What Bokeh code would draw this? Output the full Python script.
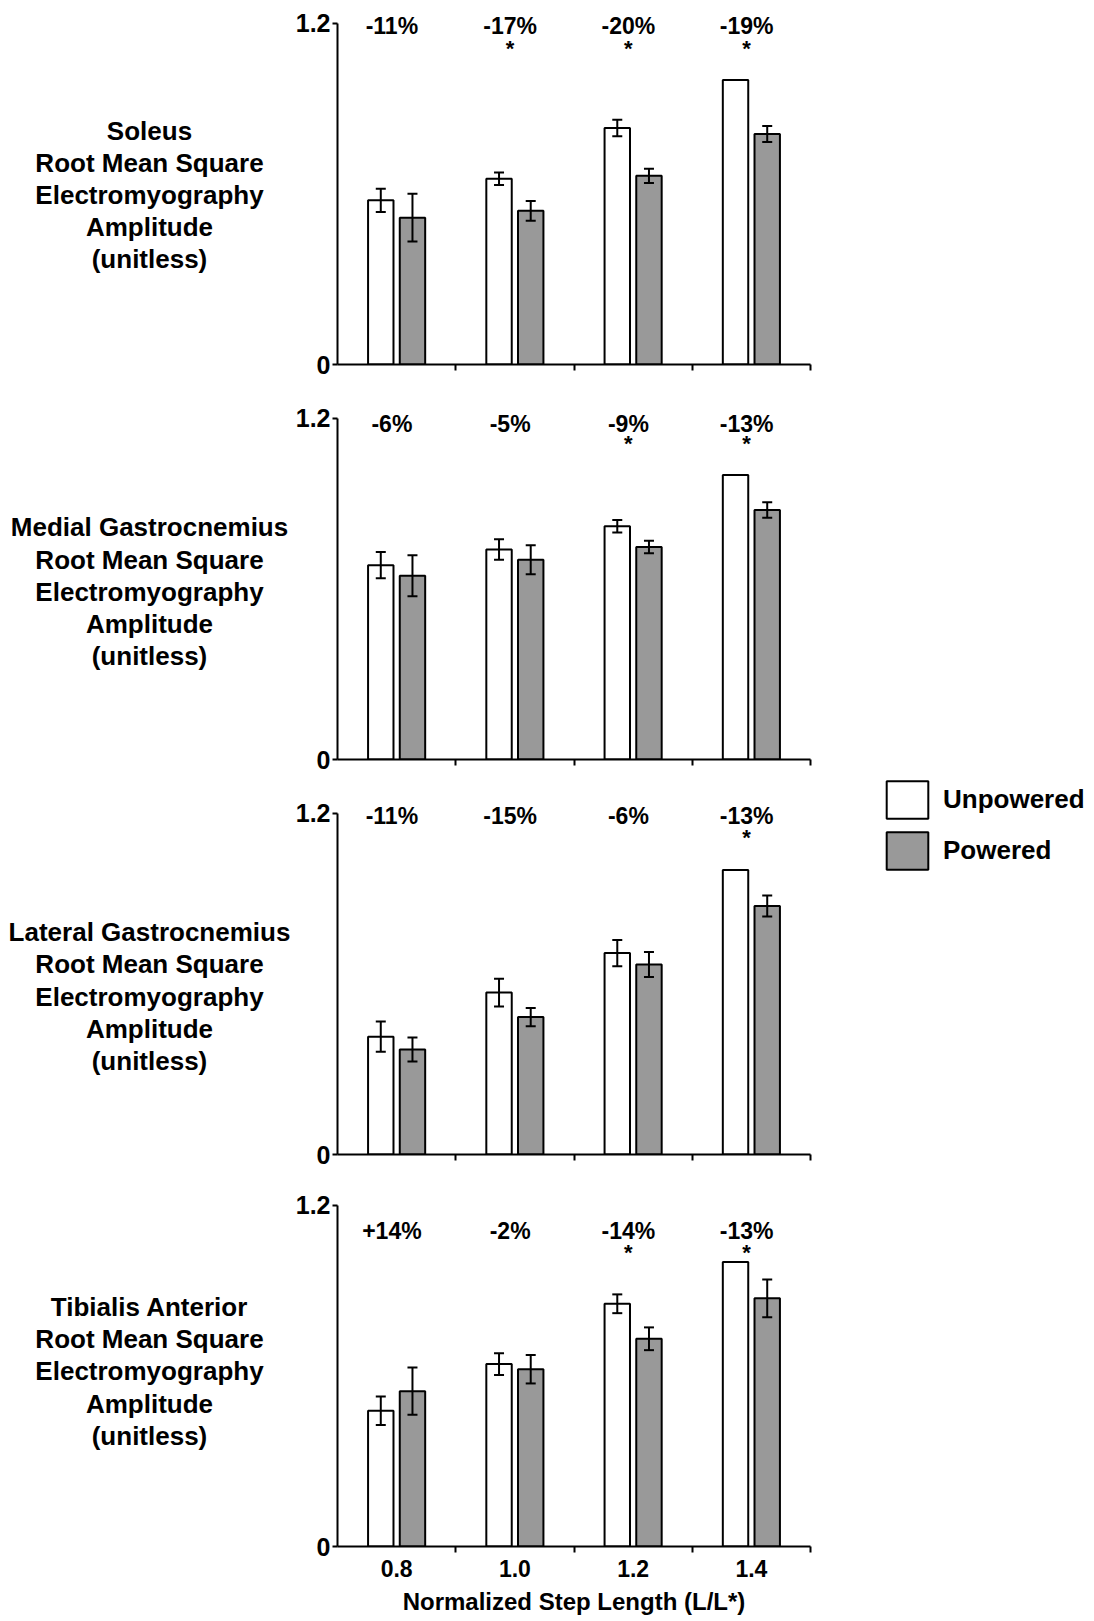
import numpy as np
from bokeh.plotting import figure
from bokeh.models import (ColumnDataSource, Range1d, FixedTicker, NumeralTickFormatter,
                          Whisker, TeeHead, Legend, LegendItem)
from bokeh.transform import dodge
from bokeh.layouts import column, row
from bokeh.core.properties import value
from bokeh.embed import file_html
from bokeh.resources import INLINE

# ---------------- data ----------------
step_lengths = [0.8, 1.0, 1.2, 1.4]
muscle_labels = [
    "Soleus\nRoot Mean Square\nElectromyography\nAmplitude\n(unitless)",
    "Medial Gastrocnemius\nRoot Mean Square\nElectromyography\nAmplitude\n(unitless)",
    "Lateral Gastrocnemius\nRoot Mean Square\nElectromyography\nAmplitude\n(unitless)",
    "Tibialis Anterior\nRoot Mean Square\nElectromyography\nAmplitude\n(unitless)",
]

soleus_unpowered = [0.577, 0.653, 0.831, 1.0]
soleus_unpowered_err = [0.041, 0.022, 0.029, 0.0]
soleus_powered = [0.516, 0.540, 0.663, 0.810]
soleus_powered_err = [0.084, 0.035, 0.025, 0.028]
soleus_change = ["-11%", "-17%", "-20%", "-19%"]
soleus_signif = [False, True, True, True]

medgas_unpowered = [0.683, 0.738, 0.820, 1.0]
medgas_unpowered_err = [0.046, 0.036, 0.022, 0.0]
medgas_powered = [0.646, 0.702, 0.747, 0.877]
medgas_powered_err = [0.072, 0.051, 0.022, 0.027]
medgas_change = ["-6%", "-5%", "-9%", "-13%"]
medgas_signif = [False, False, True, True]

latgas_unpowered = [0.414, 0.569, 0.708, 1.0]
latgas_unpowered_err = [0.053, 0.049, 0.046, 0.0]
latgas_powered = [0.369, 0.483, 0.668, 0.873]
latgas_powered_err = [0.042, 0.032, 0.044, 0.037]
latgas_change = ["-11%", "-15%", "-6%", "-13%"]
latgas_signif = [False, False, False, True]

tibant_unpowered = [0.477, 0.641, 0.853, 1.0]
tibant_unpowered_err = [0.050, 0.038, 0.033, 0.0]
tibant_powered = [0.546, 0.623, 0.730, 0.872]
tibant_powered_err = [0.083, 0.050, 0.040, 0.066]
tibant_change = ["+14%", "-2%", "-14%", "-13%"]
tibant_signif = [False, False, True, True]

y_ticks = [0, 1.2]
x_title = "Normalized Step Length (L/L*)"
series_names = ["Unpowered", "Powered"]

panels = [
    (soleus_unpowered, soleus_unpowered_err, soleus_powered, soleus_powered_err, soleus_change, soleus_signif),
    (medgas_unpowered, medgas_unpowered_err, medgas_powered, medgas_powered_err, medgas_change, medgas_signif),
    (latgas_unpowered, latgas_unpowered_err, latgas_powered, latgas_powered_err, latgas_change, latgas_signif),
    (tibant_unpowered, tibant_unpowered_err, tibant_powered, tibant_powered_err, tibant_change, tibant_signif),
]

# ---------------- layout / style ----------------
FONT = "Liberation Sans"
GRAY = "#999999"
FRAME_W, FRAME_H = 473, 350
LABEL_W = 290
Y_END = 1.23
tops = [14, 13, 13, 10]
bottoms = [32, 32, 32, 74]
TOTAL_H = sum(tops) + sum(bottoms) + 4 * FRAME_H
pct_y = [1.19, 1.18, 1.19, 1.11]
star_y = [1.11, 1.112, 1.115, 1.032]
label_y = [0.595, 0.59, 0.555, 0.615]
BAR_OFF = 0.0268
BAR_W = 0.043
TXT_OFF = -0.008
cat_step = 0.2
x_lo = step_lengths[0] - cat_step / 2
x_hi = step_lengths[-1] + cat_step / 2
bounds_ticks = [round(x_lo + i * cat_step, 2) for i in range(len(step_lengths) + 1)]

rows = []
for i, (u, ue, pw, pe, chg, sig) in enumerate(panels):
    u = np.array(u); ue = np.array(ue); pw = np.array(pw); pe = np.array(pe)
    src = ColumnDataSource(dict(
        x=step_lengths, u=u, ulo=u - ue, uhi=u + ue,
        p=pw, plo=pw - pe, phi=pw + pe, chg=chg,
    ))
    star_src = ColumnDataSource(dict(
        x=[x for x, s in zip(step_lengths, sig) if s],
        star=["*" for s in sig if s],
    ))
    last = i == len(panels) - 1

    p = figure(frame_width=FRAME_W, frame_height=FRAME_H,
               x_range=Range1d(x_lo, x_hi), y_range=Range1d(0, Y_END),
               min_border_left=47, min_border_right=10,
               min_border_top=tops[i], min_border_bottom=bottoms[i],
               output_backend="svg", toolbar_location=None, title=None, tools="")
    p.outline_line_color = None
    p.xgrid.visible = False
    p.ygrid.visible = False

    p.vbar(x=dodge("x", -BAR_OFF), top="u", bottom=0, width=BAR_W, source=src,
           fill_color="white", line_color="black", line_width=2)
    p.vbar(x=dodge("x", BAR_OFF), top="p", bottom=0, width=BAR_W, source=src,
           fill_color=GRAY, line_color="black", line_width=2)

    for off, lo, hi in ((-BAR_OFF, "ulo", "uhi"), (BAR_OFF, "plo", "phi")):
        w = Whisker(base=dodge("x", off), lower=lo, upper=hi, source=src,
                    line_color="black", line_width=2, level="overlay",
                    upper_head=TeeHead(size=10, line_width=2, line_color="black"),
                    lower_head=TeeHead(size=10, line_width=2, line_color="black"))
        p.add_layout(w)

    p.text(x=dodge("x", TXT_OFF), y=pct_y[i], text="chg", source=src,
           text_font=value(FONT), text_font_style="bold", text_font_size="23px",
           text_align="center", text_baseline="middle", text_color="black")
    p.text(x=dodge("x", TXT_OFF), y=star_y[i], text="star", source=star_src,
           text_font=value(FONT), text_font_style="bold", text_font_size="22px",
           text_align="center", text_baseline="middle", text_color="black")

    # y axis
    ya = p.yaxis[0]
    ya.ticker = FixedTicker(ticks=y_ticks, minor_ticks=[])
    ya.formatter = NumeralTickFormatter(format="0.[0]")
    ya.bounds = (0, 1.2)
    ya.axis_line_width = 2
    ya.major_tick_line_width = 2
    ya.major_tick_out = 5
    ya.major_tick_in = 0
    ya.minor_tick_out = 0
    ya.minor_tick_in = 0
    ya.major_label_standoff = 2
    ya.major_label_text_font = FONT
    ya.major_label_text_font_style = "bold"
    ya.major_label_text_font_size = "25px"
    ya.major_label_text_color = "black"

    # x axis
    xa = p.xaxis[0]
    xa.ticker = FixedTicker(ticks=step_lengths if last else [], minor_ticks=bounds_ticks)
    xa.formatter = NumeralTickFormatter(format="0.0")
    xa.axis_line_width = 2
    xa.major_tick_line_color = None
    xa.major_tick_out = 0
    xa.major_tick_in = 0
    xa.minor_tick_line_width = 2
    xa.minor_tick_out = 6
    xa.minor_tick_in = 0
    xa.major_label_text_font = FONT
    xa.major_label_text_font_style = "bold"
    xa.major_label_text_color = "black"
    xa.major_label_text_font_size = "23px"
    if last:
        xa.major_label_standoff = 7
        xa.axis_label = x_title
        xa.axis_label_standoff = 8
        xa.axis_label_text_font = FONT
        xa.axis_label_text_font_style = "bold"
        xa.axis_label_text_font_size = "24px"
        xa.axis_label_text_color = "black"
    else:
        xa.major_label_standoff = 0

    lf = figure(frame_width=LABEL_W, frame_height=FRAME_H,
                x_range=Range1d(0, LABEL_W), y_range=Range1d(0, Y_END),
                min_border_left=0, min_border_right=0,
                min_border_top=tops[i], min_border_bottom=bottoms[i],
                x_axis_type=None, y_axis_type=None,
                output_backend="svg", toolbar_location=None, title=None, tools="")
    lf.outline_line_color = None
    lf.text(x=149, y=label_y[i], text=[muscle_labels[i]],
            text_font=value(FONT), text_font_style="bold", text_font_size="26px",
            text_align="center", text_baseline="middle", text_line_height=1.07,
            text_color="black")

    rows.append(row(lf, p))

# legend in its own figure to the right; its renderers are hidden, only the key shows
LEG_W = 270
leg = figure(frame_width=LEG_W, frame_height=TOTAL_H,
             x_range=Range1d(x_lo, x_hi), y_range=Range1d(0, Y_END),
             min_border_left=0, min_border_right=0, min_border_top=0, min_border_bottom=0,
             x_axis_type=None, y_axis_type=None,
             output_backend="svg", toolbar_location=None, title=None, tools="")
leg.outline_line_color = None
leg_src = ColumnDataSource(dict(x=step_lengths, u=latgas_unpowered, p=latgas_powered))
lu = leg.vbar(x=dodge("x", -BAR_OFF), top="u", bottom=0, width=BAR_W, source=leg_src,
              fill_color="white", line_color="black", line_width=2, visible=False)
lp = leg.vbar(x=dodge("x", BAR_OFF), top="p", bottom=0, width=BAR_W, source=leg_src,
              fill_color=GRAY, line_color="black", line_width=2, visible=False)
legend = Legend(items=[LegendItem(label=series_names[0], renderers=[lu]),
                       LegendItem(label=series_names[1], renderers=[lp])],
                location=(61, TOTAL_H - 874))
legend.glyph_width = 52
legend.glyph_height = 47
legend.label_height = 47
legend.spacing = 4
legend.padding = 0
legend.margin = 0
legend.label_standoff = 10
legend.border_line_color = None
legend.background_fill_alpha = 0
legend.label_text_font = FONT
legend.label_text_font_style = "bold"
legend.label_text_font_size = "26px"
legend.label_text_color = "black"
legend.label_text_baseline = "middle"
leg.add_layout(legend)

layout = row(column(*rows), leg)
open("out.html", "w").write(file_html(layout, INLINE))
